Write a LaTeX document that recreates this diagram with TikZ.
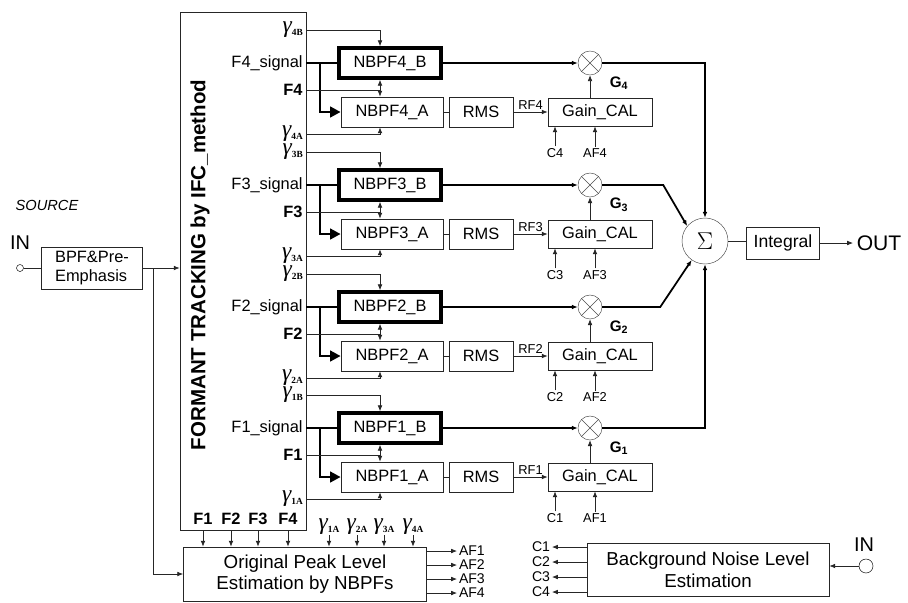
\documentclass[tikz,border=0pt]{standalone}
\usepackage{fontspec}
\setmainfont{Liberation Sans}
\newfontfamily\gfont{Liberation Serif}
\newcommand\gam[1]{{\gfont\itshape γ}\raisebox{-0.1em}{\gfont\bfseries\fontsize{8}{8}\selectfont #1}}
\usetikzlibrary{positioning,arrows.meta,calc}

\begin{document}
\begin{tikzpicture}[x=0.03cm,y=-0.03cm,
  >={Latex[length=5pt,width=4pt]},
  blk/.style={draw=black!85,line width=0.6pt,fill=white,font=\fontsize{14}{16}\selectfont,inner sep=0pt},
  nbb/.style={blk,draw=black,line width=3pt,minimum width=3.06cm,minimum height=0.9cm},
  nba/.style={blk,minimum width=3.06cm,minimum height=0.9cm},
  lbl/.style={font=\fontsize{14}{16}\selectfont,anchor=east,inner sep=1pt},
  sml/.style={font=\fontsize{11}{13}\selectfont,inner sep=1.5pt},
  tag/.style={font=\fontsize{12}{14}\selectfont,inner sep=1.5pt},
  gam/.style={font=\fontsize{20}{20}\selectfont,inner sep=0pt},
  wire/.style={draw=black!85,line width=0.6pt},
  fat/.style={line width=2.5pt},
  sumline/.style={line width=1.5pt}
]
\useasboundingbox[fill=white] (0,0) rectangle (908,602);
\node[draw=black!85,line width=0.6pt,minimum width=3.78cm,minimum height=15.54cm,inner sep=0pt] (ft) at (243,271) {};
\node[rotate=90,font=\fontsize{17.5}{19}\selectfont\bfseries] (ftt) at (200,265) {FORMANT TRACKING by IFC\_method};
\node[blk,minimum width=7.29cm,minimum height=1.62cm,font=\fontsize{16}{18.5}\selectfont,align=center] (orig) at (305,574) {Original Peak Level\\Estimation by NBPFs};
\node[blk,minimum width=7.26cm,minimum height=1.59cm,font=\fontsize{16}{18.5}\selectfont,align=center] (bg) at (708,570) {Background Noise Level\\Estimation};
\foreach \i/\y in {4/63,3/185,2/307,1/428}{
  \node[lbl,gam,anchor=east] (gb\i) at (303,\y-33) {\gam{\i B}};
  \node[lbl] (fs\i) at (304,\y) {F\i\_signal};
  \node[lbl,font=\fontsize{14}{16}\selectfont\bfseries] (fb\i) at (304,\y+27) {F\i};
  \node[lbl,gam,anchor=east] (ga\i) at (303,\y+71) {\gam{\i A}};
  \node[nbb] (nb\i) at (390,\y) {NBPF\i\_B};
  \node[nba] (na\i) at (392,\y+49) {NBPF\i\_A};
  \node[blk,minimum width=1.92cm,minimum height=0.9cm] (rms\i) at (481,\y+49) {RMS};
  \node[blk,minimum width=3.12cm,minimum height=0.84cm] (gc\i) at (600,\y+49) {Gain\_CAL};
  \node[draw=black!70,circle,minimum size=0.72cm,inner sep=0pt] (m\i) at (590,\y) {};
  \draw[black!70] (m\i.45) -- (m\i.225) (m\i.135) -- (m\i.315);
  \node[font=\fontsize{13}{15}\selectfont\bfseries] (g\i) at (619,\y+20) {G\textsubscript{\i}};
  \node[sml] (c\i) at (555,\y+90) {C\i};
  \node[sml] (af\i) at (595,\y+90) {AF\i};
  \coordinate (v\i) at (380,\y);
  \coordinate (br\i) at (320,\y);
  \draw[wire,->] (ft.east |- gb\i) -| (v\i |- nb\i.north);
  \draw[line width=1.5pt] (ft.east |- fs\i) -- (nb\i.west);
  \draw[fat,-{Triangle[length=9pt,width=9pt]}] (br\i) |- (na\i.west);
  \draw[wire] (ft.east |- fb\i) -- (v\i |- fb\i);
  \draw[wire,<->] (v\i |- nb\i.south) -- (v\i |- na\i.north);
  \draw[wire,->] (ft.east |- ga\i) -| (v\i |- na\i.south);
  \draw[wire] (na\i) -- (rms\i);
  \draw[wire,->] (rms\i) -- node[sml,above] {RF\i} (gc\i);
  \draw[line width=1.2pt,->] (nb\i) -- (m\i);
  \draw[wire,->] (m\i |- gc\i.north) -- (m\i.south);
  \draw[wire,->] (c\i) -- (c\i |- gc\i.south);
  \draw[wire,->] (af\i) -- (af\i |- gc\i.south);
}
\node[draw=black!70,circle,minimum size=1.38cm,inner sep=0pt,font=\fontsize{22}{24}\selectfont] (sum) at (705,241) {$\Sigma$};
\draw[sumline,->] (m4.east) -| (sum.north);
\draw[sumline,->] (m3.east) -- ++(61,0) -- (sum.140);
\draw[sumline,->] (m2.east) -- ++(58,0) -- (sum.235);
\draw[sumline,->] (m1.east) -| (sum.south);
\node[blk,minimum width=2.19cm,minimum height=0.96cm,font=\fontsize{15}{17}\selectfont] (intg) at (783,243) {Integral};
\draw[wire] (sum.east) -- (intg.west |- sum.east);
\node[font=\fontsize{18}{20}\selectfont,anchor=west,inner sep=3pt] (out) at (853,243) {OUT};
\draw[wire,->] (intg.east |- out) -- (out.west);
\node[font=\fontsize{12.5}{14}\selectfont\itshape] (src) at (47,205) {SOURCE};
\node[font=\fontsize{17}{19}\selectfont] (in1) at (20,243) {IN};
\node[draw,circle,minimum size=0.21cm,inner sep=0pt] (inc) at (20,268) {};
\node[blk,minimum width=3.03cm,minimum height=1.26cm,align=left] (bpf) at (92,268) {BPF\&Pre-\\Emphasis};
\draw[wire] (inc) -- (bpf);
\coordinate (sp) at (153,268);
\draw[wire,->] (bpf.east) -- (ft.west |- bpf.east);
\draw[wire,->] (sp) |- (orig.west);
\foreach \j/\x in {1/203,2/231,3/258,4/288}{
  \node[font=\fontsize{14}{16}\selectfont\bfseries] (ff\j) at (\x,519) {F\j};
  \draw[wire,->] (ff\j |- ft.south) -- (ff\j |- orig.north);
}
\foreach \j/\x in {1/329,2/357,3/384,4/413}{
  \node[gam] (gl\j) at (\x,527) {\gam{\j A}};
  \draw[wire,->] (gl\j.south) -- (gl\j.south |- orig.north);
}
\foreach \j/\yy in {1/551,2/565,3/579,4/593}{
  \node[tag,anchor=west] (afo\j) at (457,\yy) {AF\j};
  \draw[wire,->] (orig.east |- afo\j) -- (afo\j.west);
}
\foreach \j/\yy in {1/547,2/562,3/577,4/592}{
  \node[tag,anchor=east] (cb\j) at (552,\yy) {C\j};
  \draw[wire,->] (bg.west |- cb\j) -- (cb\j.east);
}
\node[font=\fontsize{17}{19}\selectfont] (in2) at (864,545) {IN};
\node[draw,circle,minimum size=0.42cm,inner sep=0pt] (inc2) at (866,566) {};
\draw[wire,->] (inc2) -- (bg.east |- inc2);
\end{tikzpicture}
\end{document}
